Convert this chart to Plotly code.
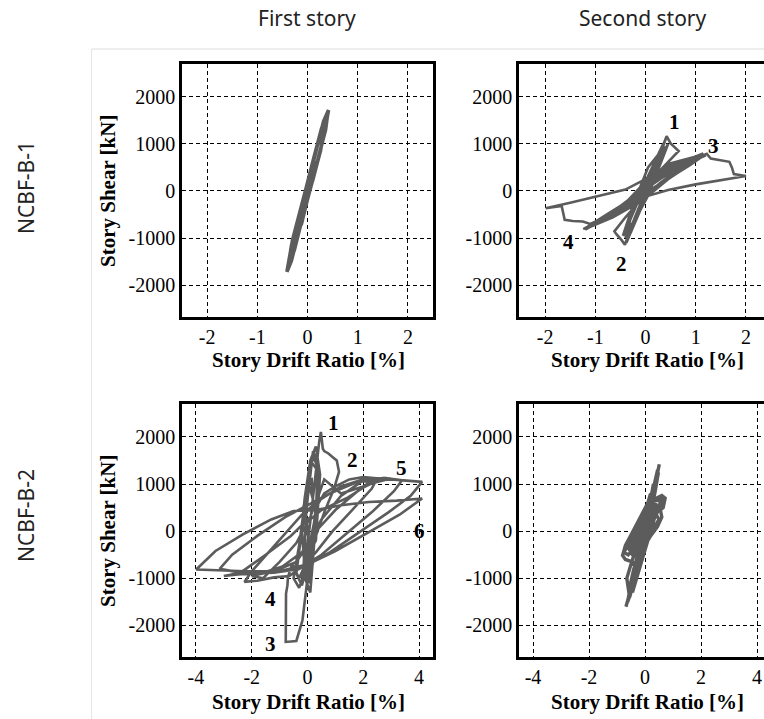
import plotly.graph_objects as go

# ---------------- data ----------------
# NCBF-B-1, first story
b1_s1_drift = [0, 0.10, 0.20, 0.12, 0.0, -0.12, -0.22, -0.12, 0.0, 0.12, 0.26, 0.33, 0.22, 0.08, -0.06,
               -0.20, -0.30, -0.36, -0.24, -0.10, 0.04, 0.18, 0.30, 0.38, 0.42, 0.32, 0.18, 0.04, -0.10,
               -0.24, -0.34, -0.41, -0.32, -0.18, -0.04, 0.10, 0.24, 0.36, 0.40, 0.28, 0.12, -0.04, -0.20,
               -0.32, -0.39, -0.26, -0.12, 0.0]
b1_s1_shear = [0, 210, 620, 560, 80, -330, -900, -700, -180, 270, 860, 1350, 1060, 500, -60,
               -620, -1050, -1480, -1140, -560, -20, 540, 1060, 1450, 1720, 1480, 900, 330, -240,
               -820, -1300, -1720, -1480, -900, -330, 220, 800, 1300, 1620, 1330, 680, 20, -640,
               -1160, -1640, -1250, -650, -100]

# NCBF-B-1, second story
b1_s2_drift = [0.00, 0.15, 0.30, 0.42, 0.50, 0.62, 0.66, 0.40, 0.10, -0.15, -0.30, -0.41, -0.48, -0.58, -0.62,
               -0.40, -0.10, 0.20, 0.50, 0.80, 1.00, 1.15, 1.05, 0.70, 0.30, 0.00, -0.40, -0.80, -1.05, -1.24,
               -1.15, -0.80, -0.40, 0.00, 0.40, 0.80, 1.10, 1.22, 1.30, 1.50, 1.67, 1.72, 1.76, 2.00, 1.50,
               1.00, 0.45, 0.00, -0.40, -0.80, -1.10, -1.25, -1.45, -1.61, -1.67, -1.99, -1.50, -1.00, -0.40,
               0.00, 0.40, 0.90, 1.20, 0.80, 0.30, -0.10, -0.50, -1.00, -1.20, -0.70, -0.20, 0.10, 0.35,
               0.05, -0.25, -0.45, -0.20, 0.05, 0.45, 0.30, 0.0, -0.30, -0.40, -0.15, 0.15, 0.40, 0.70, 1.10,
               0.80, 0.40, 0.05, -0.30, -0.70, -1.15, -0.85, -0.45, -0.10, 0.20, 0.60, 1.00, 1.18, 0.90,
               0.50, 0.15, -0.20, -0.60, -1.00, -1.20, -0.90, -0.50, -0.15, 0.15, 0.55, 0.95, 1.15,
               0.85, 0.45, 0.10, -0.25, -0.65, -1.10, -0.75, -0.35, 0.00, 0.35, 0.10, -0.15, -0.38, -0.20,
               0.05, 0.30, 0.40, 0.20, -0.05, -0.30, -0.10, 0.15, 0.38]
b1_s2_shear = [0, 420, 850, 1165, 1010, 880, 850, 560, 230, -400, -800, -1144, -1040, -920, -860,
               -560, -200, 250, 480, 650, 730, 800, 700, 480, 180, -100, -380, -600, -720, -812,
               -760, -520, -250, 100, 400, 600, 740, 790, 690, 660, 620, 500, 360, 318, 230,
               140, 20, -120, -330, -560, -700, -650, -640, -614, -318, -367, -250, -120, 30,
               250, 480, 650, 760, 560, 260, -40, -360, -680, -800, -560, -200, 150, 900,
               500, -300, -950, -600, -100, 1000, 700, 150, -600, -1000, -500, 200, 560, 650, 760,
               600, 380, 80, -250, -480, -780, -640, -440, -150, 300, 540, 700, 770, 560,
               300, 60, -260, -500, -700, -820, -600, -330, -20, 360, 580, 720, 780,
               540, 250, -60, -320, -560, -760, -520, -200, 200, 1000, 250, -500, -1100, -600,
               150, 850, 1100, 500, -250, -900, -400, 300, 950]

# NCBF-B-2, first story
b2_s1_drift = [0.00, -0.05, 0.00, 0.15, 0.20, 0.10, 0.00, -0.10, -0.20, -0.05, 0.10, 0.25, 0.35, 0.42, 0.48,
               0.55, 0.60, 0.75, 0.95, 1.05, 1.13, 0.95, 0.60, 0.30, 0.00, -0.30, -0.55, -0.70, -0.72, -0.77,
               -0.78, -0.40, -0.18, 0.00, 0.15, 0.30, 0.60, 1.00, 1.50, 2.00, 2.50, 2.30, 1.60, 0.90, 0.30,
               -0.20, -0.65, -1.20, -1.80, -2.26, -2.00, -1.40, -0.70, -0.20, 0.40, 1.20, 2.00, 2.80, 3.39,
               3.10, 2.30, 1.40, 0.50, -0.30, -1.20, -2.20, -3.15, -2.70, -1.80, -0.80, 0.00, 0.80, 1.80,
               3.00, 4.11, 3.70, 2.90, 1.80, 0.80, 0.00, -1.00, -2.20, -3.20, -3.99, -3.30, -2.30, -1.30,
               -0.50, 0.30, 1.20, 2.20, 3.20, 4.11, 3.30, 2.20, 1.00, 0.20, 0.05, 0.30, 0.40, 0.20, -0.05,
               -0.15, 0.10, 0.30, 0.35, 0.10, -0.10, -0.30, -0.50, -0.30, -0.10, 0.10, 0.35, 0.40, 0.20,
               0.00, -0.20, -0.10, 0.05, 0.20, 0.30, 0.60, 1.20, 2.00, 2.40, 2.00, 1.20, 0.50, 0.00, -0.40,
               -1.00, -1.60, -2.00, -1.60, -1.00, -0.40, 0.00, 0.50, 1.40, 2.20, 3.00, 2.70, 1.90, 1.00,
               0.30, -0.20, -0.90, -1.60, -2.50, -3.00, -2.40, -1.50, -0.60, 0.10, 0.25, 0.05, -0.15, 0.10,
               0.30, 0.45, 0.30, 0.10, -0.10, -0.25, -0.40, -0.20, 0.00, 0.20, 0.40]
b2_s1_shear = [0, 300, 1050, 1100, 700, 200, -300, -700, -1000, -500, 200, 1000, 1600, 1900, 2108,
               1750, 1700, 1650, 1550, 1500, 1260, 900, 400, -100, -600, -1000, -700, -970, -1150, -1323,
               -2350, -2330, -1890, -1000, -200, 500, 800, 950, 1100, 1150, 1120, 900, 450, 0, -450,
               -750, -950, -980, -1050, -1076, -850, -450, 0, 350, 650, 950, 1100, 1130, 1083,
               850, 400, -50, -500, -800, -880, -900, -800, -500, -100, 300, 550, 800, 1050,
               1100, 1047, 750, 400, -50, -450, -700, -850, -850, -830, -813, -420, -60, 250,
               430, 450, 550, 620, 650, 694, 350, -20, -420, -650, -1100, 300, 1400, 1700, 400,
               -900, -1300, 200, 1300, 1500, 600, -300, -1000, -1200, -900, -200, 500, 1300, 1600, 900,
               0, -800, -1100, -300, 600, 1100, 800, 950, 1100, 1080, 750, 250, -300, -650, -800,
               -900, -950, -1000, -650, -250, 200, 450, 700, 1000, 1120, 1130, 900, 450, 0,
               -450, -750, -880, -920, -950, -880, -500, -100, 300, 550, 1000, 500, -400, -200,
               1200, 1800, 1500, 700, -200, -900, -1150, -700, 0, 800, 1400]

# NCBF-B-2, second story
b2_s2_drift = [0.00, 0.15, 0.30, 0.42, 0.51, 0.45, 0.30, 0.25, 0.40, 0.60, 0.72, 0.65, 0.55, 0.60, 0.45,
               0.20, 0.00, -0.20, -0.40, -0.55, -0.68, -0.60, -0.40, -0.30, -0.45, -0.70, -0.80, -0.70,
               -0.50, -0.30, -0.10, 0.10, 0.20, 0.05, -0.10, -0.30, -0.55, -0.45, -0.25, 0.00, 0.20, 0.35,
               0.50, 0.35, 0.15, -0.05, -0.25, -0.45, -0.35, -0.15, 0.00, 0.10, 0.30, 0.12, -0.10, -0.35,
               -0.20, 0.00, 0.10, 0.30, 0.45, 0.35, 0.15, -0.05, -0.30, -0.60, -0.75, -0.50, -0.20, 0.00,
               0.20, 0.50, 0.65, 0.55, 0.40, 0.50, 0.30, 0.00, -0.30, -0.50, -0.62, -0.50, -0.30, -0.10,
               0.10, 0.25, 0.40, 0.20, 0.00, -0.20, -0.40, -0.55, -0.40, -0.20, 0.00, 0.15, 0.35, 0.48,
               0.38, 0.20, 0.00, -0.20, -0.45, -0.65, -0.55, -0.30, -0.05, 0.05, 0.25, 0.40, 0.30, 0.10,
               -0.15, -0.35, -0.55, -0.45, -0.25, -0.05, -0.30, -0.60, -0.40, -0.15, 0.10, 0.35, 0.60,
               0.45, 0.20]
b2_s2_shear = [0, 450, 850, 1150, 1421, 1250, 850, 650, 700, 760, 700, 500, 450, 300, 100,
               -100, -300, -600, -1000, -1300, -1605, -1450, -1050, -800, -650, -600, -515, -300,
               -80, 150, 350, 600, 800, 500, 200, -100, -400, -500, -300, 0, 300, 450,
               550, 300, -100, -500, -900, -1300, -1100, -600, -200, 100, 1000, 400, -200, -750,
               -350, 0, 400, 900, 1300, 1000, 500, 100, -300, -500, -450, -150, 100, 350,
               650, 650, 720, 550, 350, 250, 50, -200, -600, -1100, -1500, -1300, -900, -400,
               0, 300, 600, 300, -100, -450, -800, -1200, -1000, -600, -150, 300, 800, 1250,
               1000, 600, 150, -250, -600, -1000, -1400, -900, -350, 200, 750, 1150, 900, 350,
               -250, -700, -1250, -1050, -550, -100, -200, -400, -100, 200, 500, 700, 700,
               450, 100]

x_ticks_b1 = [-2, -1, 0, 1, 2]
x_ticks_b2 = [-4, -2, 0, 2, 4]
y_ticks = [-2000, -1000, 0, 1000, 2000]
y_tick_text = ["-2000", "-1000", "0", "1000", "2000"]

# peak labels (text, x, y) per panel
labels_b1_s2 = [("1", 0.58, 1470), ("3", 1.35, 950), ("4", -1.54, -1075), ("2", -0.48, -1550)]
labels_b2_s1 = [("1", 0.95, 2290), ("2", 1.61, 1510), ("5", 3.37, 1350), ("6", 4.0, 10),
                ("4", -1.31, -1430), ("3", -1.31, -2385)]

col_titles = ["First story", "Second story"]
row_titles = ["NCBF-B-1", "NCBF-B-2"]
x_title = "Story Drift Ratio [%]"
y_title = "Story Shear [kN]"

# ---------------- figure ----------------
W, H = 764, 719
def px(x):
    return x / W
def py(y):
    return 1 - y / H

LINE = "#5c5c5c"
SERIF = "Liberation Serif"

fig = go.Figure()
panels = [
    (b1_s1_drift, b1_s1_shear, "x", "y", 3.6),
    (b1_s2_drift, b1_s2_shear, "x2", "y2", 2.6),
    (b2_s1_drift, b2_s1_shear, "x3", "y3", 2.6),
    (b2_s2_drift, b2_s2_shear, "x4", "y4", 3.4),
]
for xs, ys, xa, ya, lw in panels:
    fig.add_trace(go.Scatter(x=xs, y=ys, mode="lines", xaxis=xa, yaxis=ya,
                             line=dict(color=LINE, width=lw), showlegend=False,
                             hoverinfo="skip"))

def xax(domain, rng, ticks, anchor):
    return dict(domain=domain, range=rng, anchor=anchor, tickvals=ticks,
                ticktext=[str(t) if t >= 0 else "-" + str(-t) for t in ticks],
                showline=True, linecolor="black", linewidth=2.5, mirror=True,
                showgrid=True, gridcolor="black", gridwidth=1.3, griddash="4px,3px",
                zeroline=False, ticks="", fixedrange=True,
                tickfont=dict(family=SERIF, size=20, color="black"))

def yax(domain, rng, anchor, mirror):
    return dict(domain=domain, range=rng, anchor=anchor, tickvals=y_ticks, ticktext=y_tick_text,
                showline=True, linecolor="black", linewidth=2.5, mirror=mirror,
                showgrid=True, gridcolor="black", gridwidth=1.3, griddash="4px,3px",
                zeroline=False, ticks="", fixedrange=True,
                tickfont=dict(family=SERIF, size=20, color="black"))

top_y = [py(317), py(64)]
bot_y = [py(657), py(404)]
left_x = [px(182), px(433)]
right_x = [px(519), 1.0]

fig.update_layout(
    width=W, height=H, margin=dict(l=0, r=0, t=0, b=0),
    paper_bgcolor="white", plot_bgcolor="white",
    xaxis=xax(left_x, [-2.5, 2.5], x_ticks_b1, "y"),
    yaxis=yax(top_y, [-2680, 2700], "x", True),
    xaxis2=xax(right_x, [-2.52, 2.36], x_ticks_b1, "y2"),
    yaxis2=yax(top_y, [-2680, 2700], "x2", False),
    xaxis3=xax(left_x, [-4.5, 4.5], x_ticks_b2, "y3"),
    yaxis3=yax(bot_y, [-2670, 2700], "x3", True),
    xaxis4=xax(right_x, [-4.5, 4.25], x_ticks_b2, "y4"),
    yaxis4=yax(bot_y, [-2670, 2700], "x4", False),
)

ann = []
for t, cx in zip(col_titles, [306.5, 643]):
    ann.append(dict(text=t, x=px(cx), y=py(18), xref="paper", yref="paper", showarrow=False,
                    xanchor="center", yanchor="middle",
                    font=dict(family="Noto Sans", size=21, color="#222")))
for t, cy in zip(row_titles, [188, 516]):
    ann.append(dict(text=t, x=px(26), y=py(cy), xref="paper", yref="paper", showarrow=False,
                    textangle=-90, xanchor="center", yanchor="middle",
                    font=dict(family="Noto Sans", size=21, color="#222")))
for cx, cy in [(308, 360), (647, 360), (308, 702), (647.5, 702)]:
    ann.append(dict(text="<b>" + x_title + "</b>", x=px(cx), y=py(cy), xref="paper", yref="paper",
                    showarrow=False, xanchor="center", yanchor="middle",
                    font=dict(family=SERIF, size=21, color="black")))
for cy in [191, 531]:
    ann.append(dict(text="<b>" + y_title + "</b>", x=px(108), y=py(cy), xref="paper", yref="paper",
                    showarrow=False, textangle=-90, xanchor="center", yanchor="middle",
                    font=dict(family=SERIF, size=21, color="black")))
for t, x, y in labels_b1_s2:
    ann.append(dict(text="<b>" + t + "</b>", x=x, y=y, xref="x2", yref="y2", showarrow=False,
                    font=dict(family=SERIF, size=21, color="black")))
for t, x, y in labels_b2_s1:
    ann.append(dict(text="<b>" + t + "</b>", x=x, y=y, xref="x3", yref="y3", showarrow=False,
                    font=dict(family=SERIF, size=21, color="black")))
fig.update_layout(annotations=ann)

fig.add_shape(type="line", xref="paper", yref="paper", x0=px(92), x1=1, y0=py(49), y1=py(49),
              line=dict(color="#dcdcdc", width=1))
fig.add_shape(type="line", xref="paper", yref="paper", x0=px(91.5), x1=px(91.5), y0=py(49), y1=0,
              line=dict(color="#e6e6e6", width=1))

fig.write_html("out.html", config={"displayModeBar": False},
               post_script="document.body.style.margin='0px';document.body.style.overflow='hidden';")
